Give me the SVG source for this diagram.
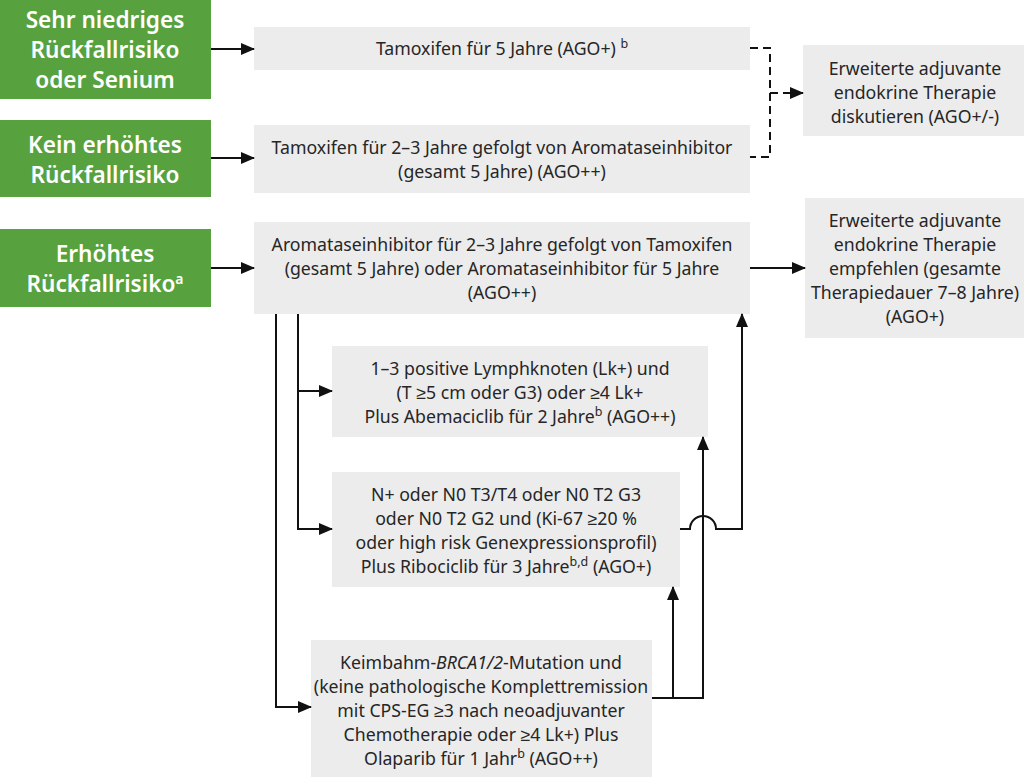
<svg xmlns="http://www.w3.org/2000/svg" width="1024" height="777" viewBox="0 0 1024 777">
<style>
.g{fill:#58a13f}
.b{fill:#ececec}
.gt{font-family:"Noto Sans",sans-serif;font-size:22.6px;font-weight:600;fill:#fff;text-anchor:middle}
.t{font-family:"Noto Sans",sans-serif;font-size:17.7px;fill:#262626;text-anchor:middle}
.c{fill:none;stroke:#111;stroke-width:2}
.d{fill:none;stroke:#111;stroke-width:2;stroke-dasharray:8 5}
</style>
<defs>
<marker id="ah" markerUnits="userSpaceOnUse" markerWidth="14" markerHeight="12" refX="13" refY="6" orient="auto">
<path d="M0,0 L14,6 L0,12 Z" fill="#111"/>
</marker>
</defs>
<rect width="1024" height="777" fill="#fff"/>
<g id="risk1"><rect class="g" x="0" y="0" width="211" height="99"/>
<text class="gt" x="105" y="28">Sehr niedriges</text><text class="gt" x="105" y="58">Rückfallrisiko</text><text class="gt" x="105" y="88">oder Senium</text></g>
<g id="risk2"><rect class="g" x="0" y="120" width="211" height="77"/>
<text class="gt" x="105" y="153">Kein erhöhtes</text><text class="gt" x="105" y="183">Rückfallrisiko</text></g>
<g id="risk3"><rect class="g" x="0" y="229" width="211" height="78"/>
<text class="gt" x="105" y="262">Erhöhtes</text><text class="gt" x="105" y="292">Rückfallrisiko<tspan font-size="14" dy="-8">a</tspan></text></g>
<g id="tam5"><rect class="b" x="254" y="27" width="496" height="43"/>
<text class="t" x="502" y="55">Tamoxifen für 5 Jahre (AGO+) <tspan font-size="12.5" dy="-7">b</tspan></text></g>
<g id="tam23"><rect class="b" x="254" y="125" width="496" height="68"/>
<text class="t" x="502" y="154">Tamoxifen für 2–3 Jahre gefolgt von Aromataseinhibitor</text>
<text class="t" x="502" y="178">(gesamt 5 Jahre) (AGO++)</text></g>
<g id="ai"><rect class="b" x="254" y="222" width="496" height="92"/>
<text class="t" x="502" y="251">Aromataseinhibitor für 2–3 Jahre gefolgt von Tamoxifen</text>
<text class="t" x="502" y="275">(gesamt 5 Jahre) oder Aromataseinhibitor für 5 Jahre</text>
<text class="t" x="502" y="299">(AGO++)</text></g>
<g id="ext1"><rect class="b" x="803" y="45" width="221" height="91"/>
<text class="t" x="915" y="75">Erweiterte adjuvante</text>
<text class="t" x="915" y="99">endokrine Therapie</text>
<text class="t" x="915" y="123">diskutieren (AGO+/-)</text></g>
<g id="ext2"><rect class="b" x="805" y="198" width="219" height="140"/>
<text class="t" x="915" y="227">Erweiterte adjuvante</text>
<text class="t" x="915" y="251">endokrine Therapie</text>
<text class="t" x="915" y="275">empfehlen (gesamte</text>
<text class="t" x="915" y="299">Therapiedauer 7–8 Jahre)</text>
<text class="t" x="915" y="323">(AGO+)</text></g>
<g id="abema"><rect class="b" x="332" y="346" width="376" height="91"/>
<text class="t" x="520" y="375">1–3 positive Lymphknoten (Lk+) und</text>
<text class="t" x="520" y="399">(T ≥5 cm oder G3) oder ≥4 Lk+</text>
<text class="t" x="520" y="423">Plus Abemaciclib für 2 Jahre<tspan font-size="12.5" dy="-7">b</tspan><tspan dy="7"> (AGO++)</tspan></text></g>
<g id="ribo"><rect class="b" x="332" y="472" width="348" height="115"/>
<text class="t" x="506" y="501">N+ oder N0 T3/T4 oder N0 T2 G3</text>
<text class="t" x="506" y="525">oder N0 T2 G2 und (Ki-67 ≥20 %</text>
<text class="t" x="506" y="549">oder high risk Genexpressionsprofil)</text>
<text class="t" x="506" y="573">Plus Ribociclib für 3 Jahre<tspan font-size="12.5" dy="-7">b,d</tspan><tspan dy="7"> (AGO+)</tspan></text></g>
<g id="olap"><rect class="b" x="311" y="640" width="341" height="137"/>
<text class="t" x="481" y="669">Keimbahm-<tspan font-style="italic">BRCA1/2</tspan>-Mutation und</text>
<text class="t" x="481" y="693">(keine pathologische Komplettremission</text>
<text class="t" x="481" y="717">mit CPS-EG ≥3 nach neoadjuvanter</text>
<text class="t" x="481" y="741">Chemotherapie oder ≥4 Lk+) Plus</text>
<text class="t" x="481" y="765">Olaparib für 1 Jahr<tspan font-size="12.5" dy="-7">b</tspan><tspan dy="7"> (AGO++)</tspan></text></g>
<g id="connectors">
<path class="c" d="M211,49 H254" marker-end="url(#ah)"/>
<path class="c" d="M211,158 H254" marker-end="url(#ah)"/>
<path class="c" d="M211,268 H254" marker-end="url(#ah)"/>
<path class="d" d="M750,48 H770 V157 H750"/>
<path class="d" d="M770,93 H803" marker-end="url(#ah)"/>
<path class="c" d="M750,268 H805" marker-end="url(#ah)"/>
<path class="c" d="M276,314 V707 H311" marker-end="url(#ah)"/>
<path class="c" d="M298,314 V391 H332" marker-end="url(#ah)"/>
<path class="c" d="M298,391 V529 H332" marker-end="url(#ah)"/>
<path class="c" d="M652,698 H703 V437" marker-end="url(#ah)"/>
<path class="c" d="M673,698 V587" marker-end="url(#ah)"/>
<path class="c" d="M680,529 H690 A13,13 0 0 1 716,529 H742 V314" marker-end="url(#ah)"/>
</g>
</svg>
